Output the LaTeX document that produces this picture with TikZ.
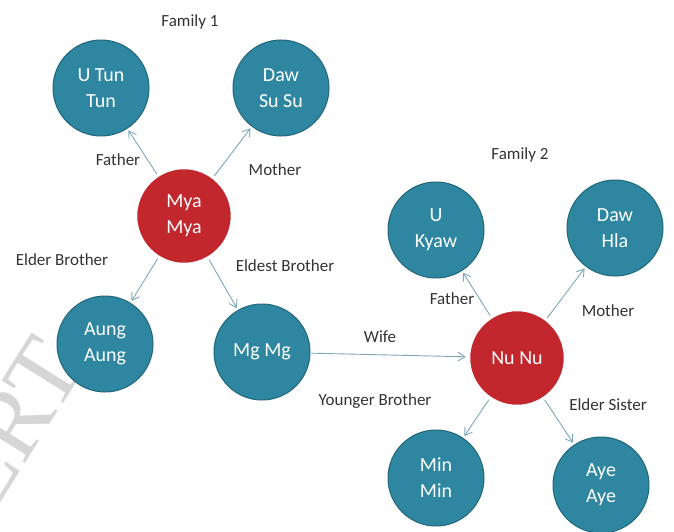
\documentclass[tikz,border=0pt]{standalone}
\usepackage{fontspec}
\setmainfont{Carlito}
\newfontfamily\markfont{Liberation Serif}
\usetikzlibrary{arrows.meta}
\definecolor{tealfill}{HTML}{2E86A0}
\definecolor{tealedge}{HTML}{21677A}
\definecolor{redfill}{HTML}{C1272D}
\definecolor{linkcol}{HTML}{7DA7B7}
\definecolor{labelcol}{HTML}{333333}
\tikzset{
  person/.style={circle, fill=tealfill, draw=tealedge, line width=1pt,
    minimum size=96pt, inner sep=0pt, text=white, align=center,
    font=\fontsize{20}{26}\selectfont},
  self/.style={person, fill=redfill, draw=white, line width=2.5pt, minimum size=96pt},
  link/.style={draw=linkcol, line width=0.9pt, -{Straight Barb[length=7pt,width=9pt]},
    shorten <=1pt, shorten >=2pt},
  rel/.style={text=labelcol, font=\fontsize{17}{20}\selectfont, inner sep=1pt},
  title/.style={text=labelcol, font=\fontsize{17}{20}\selectfont}
}
\begin{document}
\begin{tikzpicture}[x=1pt,y=1pt]
\useasboundingbox (0,0) rectangle (674,-532);
% faint stamp at the lower left, cut by the page edge
\begin{scope}
  \clip (0,0) rectangle (674,-532);
  \node[text=black!16, rotate=58, font=\markfont\fontsize{98}{98}\selectfont,
    anchor=south east, inner sep=0pt]
    (stamp) at (88,-366) {IJERT};
\end{scope}

% family 1
\node[title] (fam1) at (190,-22) {Family 1};
\node[person] (tun) at (101,-88) {U Tun\\Tun};
\node[person] (susu) at (281,-88) {Daw\\Su Su};
\node[self] (mya) at (184,-216) {Mya\\Mya};
\node[person] (aung) at (105,-344) {Aung\\Aung};
\node[person] (mgmg) at (262,-352) {Mg Mg};

% family 2
\node[title] (fam2) at (520,-155) {Family 2};
\node[person] (kyaw) at (436,-230) {U\\Kyaw};
\node[person] (hla) at (615,-228) {Daw\\Hla};
\node[self] (nunu) at (517,-358) {Nu Nu};
\node[person] (minmin) at (436,-478) {Min\\Min};
\node[person] (aye) at (601,-485) {Aye\\Aye};

% relations of Mya Mya
\draw[link] (mya) -- (tun);
\draw[link] (mya) -- (susu);
\draw[link] (mya) -- (aung);
\draw[link] (mya) -- (mgmg);
\draw[link] (mgmg) -- (nunu);

% relations of Nu Nu
\draw[link] (nunu) -- (kyaw);
\draw[link] (nunu) -- (hla);
\draw[link] (nunu) -- (minmin);
\draw[link] (nunu) -- (aye);

% relation labels
\node[rel] (l1) at (118,-160) {Father};
\node[rel] (l2) at (275,-170) {Mother};
\node[rel] (l3) at (62,-260) {Elder Brother};
\node[rel] (l4) at (285,-266) {Eldest Brother};
\node[rel] (l5) at (380,-337) {Wife};
\node[rel] (l6) at (375,-401) {Younger Brother};
\node[rel] (l7) at (452,-299) {Father};
\node[rel] (l8) at (608,-311) {Mother};
\node[rel] (l9) at (608,-405) {Elder Sister};
\end{tikzpicture}
\end{document}
